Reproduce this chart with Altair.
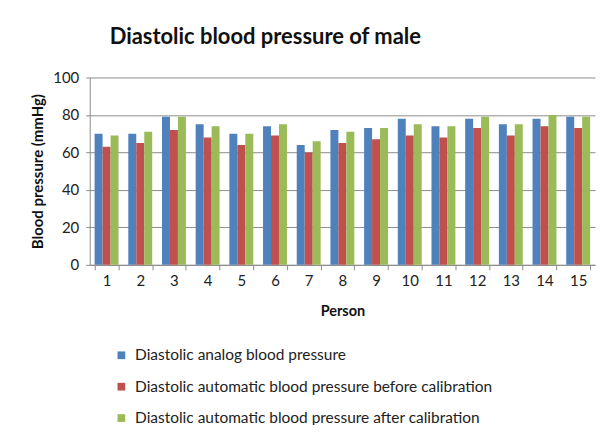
import altair as alt
import pandas as pd

persons = [str(i) for i in range(1, 16)]
series = [
    "Diastolic analog blood pressure",
    "Diastolic automatic blood pressure  before calibration",
    "Diastolic automatic blood pressure  after calibration",
]
analog = [70, 70, 79, 75, 70, 74, 64, 72, 73, 78, 74, 78, 75, 78, 79]
before = [63, 65, 72, 68, 64, 69, 60, 65, 67, 69, 68, 73, 69, 74, 73]
after = [69, 71, 79, 74, 70, 75, 66, 71, 73, 75, 74, 79, 75, 80, 79]
colors = ["#4F81BD", "#C0504D", "#9BBB59"]

rows = []
for vals, s in zip([analog, before, after], series):
    for p, v in zip(persons, vals):
        rows.append({"Person": p, "Series": s, "Value": v})
df = pd.DataFrame(rows)

font = "Lato"
grid = "#8C8C8C"

chart = (
    alt.Chart(df)
    .mark_bar()
    .encode(
        x=alt.X(
            "Person:N",
            sort=persons,
            scale=alt.Scale(paddingInner=0.29, paddingOuter=0.145),
            axis=alt.Axis(
                title="Person",
                labelAngle=0,
                tickBand="extent",
                tickSize=5,
                tickColor=grid,
                domainColor=grid,
                labelFontSize=15,
                labelPadding=4,
                titleFontSize=14.5,
                titleFontWeight="bold",
                titlePadding=16,
                grid=False,
            ),
        ),
        xOffset=alt.XOffset("Series:N", sort=series),
        y=alt.Y(
            "Value:Q",
            scale=alt.Scale(domain=[0, 100]),
            axis=alt.Axis(
                title="Blood pressure (mmHg)",
                values=[0, 20, 40, 60, 80, 100],
                tickSize=4,
                tickColor=grid,
                domainColor=grid,
                gridColor=grid,
                labelFontSize=15,
                labelPadding=7,
                titleFontSize=15,
                titleFontWeight="bold",
                titlePadding=7,
            ),
        ),
        color=alt.Color(
            "Series:N",
            sort=series,
            scale=alt.Scale(domain=series, range=colors),
            legend=alt.Legend(
                title=None,
                orient="none",
                legendX=24,
                legendY=271,
                direction="vertical",
                symbolType="square",
                symbolSize=60,
                symbolStrokeWidth=0,
                labelFontSize=15.5,
                labelLimit=0,
                labelColor="#222222",
                rowPadding=14.5,
                labelOffset=6,
            ),
        ),
    )
    .properties(
        width=507,
        height=188,
        title=alt.TitleParams(
            "Diastolic blood pressure of male",
            anchor="start",
            frame="group",
            dx=20,
            fontSize=22,
            fontWeight="bold",
            font=font,
            color="#111111",
            offset=22,
        ),
        autosize=alt.AutoSizeParams(type="none"),
        padding={"left": 82, "top": 69, "right": 10, "bottom": 160},
    )
    .configure(font=font)
    .configure_axis(labelFont=font, titleFont=font, labelColor="#222222", titleColor="#111111")
    .configure_legend(labelFont=font)
    .configure_view(stroke=None)
)

chart.save("out.html", embed_options={"renderer": "svg", "actions": False})
